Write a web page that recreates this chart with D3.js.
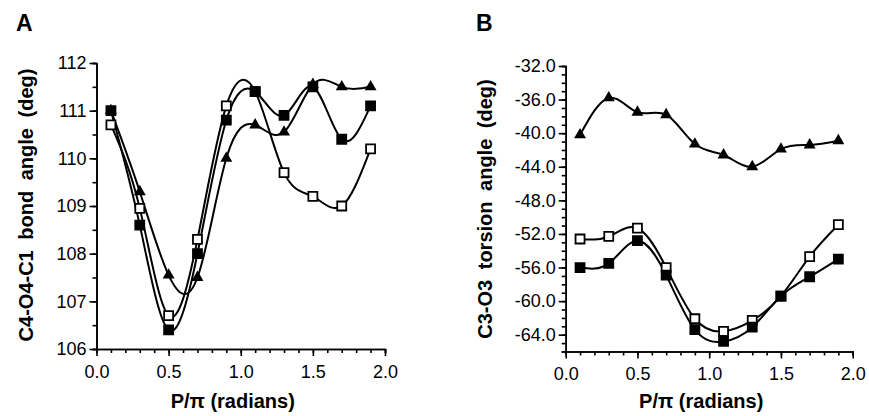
<!DOCTYPE html>
<html>
<head>
<meta charset="utf-8">
<script src="https://cdn.jsdelivr.net/npm/d3@7"></script>
<style>
  body { margin: 0; background: #fff; }
  svg { display: block; font-family: "Liberation Sans", Arial, sans-serif; }
  .tick text { font-size: 18px; }
  .title { font-weight: bold; font-size: 20px; }
</style>
</head>
<body>
<svg width="869" height="416"></svg>
<script>
'use strict';

let phase = [0.1, 0.3, 0.5, 0.7, 0.9, 1.1, 1.3, 1.5, 1.7, 1.9];

// panel A: C4-O4-C1 bond angle
let angleFilled = [111.0, 108.6, 106.4, 108.0, 110.8, 111.4, 110.9, 111.5, 110.4, 111.1];
let angleOpen = [110.7, 108.95, 106.7, 108.3, 111.1, 111.4, 109.7, 109.2, 109.0, 110.2];
let angleTri = [111.0, 109.3, 107.55, 107.5, 110.0, 110.7, 110.55, 111.55, 111.5, 111.5];

// panel B: C3-O3 torsion angle
let torsionFilled = [-56.0, -55.5, -52.8, -56.9, -63.4, -64.8, -63.1, -59.4, -57.1, -55.0];
let torsionOpen = [-52.6, -52.3, -51.3, -56.0, -62.1, -63.6, -62.3, -59.4, -54.7, -50.9];
let torsionTri = [-40.2, -35.8, -37.5, -37.8, -41.3, -42.6, -44.0, -41.9, -41.4, -40.9];

let xTicks = [0, 0.5, 1.0, 1.5, 2.0];
let angleTicks = [106, 107, 108, 109, 110, 111, 112];
let torsionTicks = [-64, -60, -56, -52, -48, -44, -40, -36, -32];

let svg = d3.select("svg");

// plain hyphen instead of d3's unicode minus, like the original figure
let hyphen = f => d => f(d).replace("\u2212", "-");

function panel(opt) {
  let g = svg.append("g");

  let x = d3.scaleLinear().domain([0, 2]).range(opt.xr);
  let y = d3.scaleLinear().domain(opt.yd).range(opt.yr);

  // minor ticks first, then the major axis over them
  g.append("g")
    .attr("transform", `translate(0,${opt.yr[0]})`)
    .call(d3.axisBottom(x).tickValues(d3.range(0, 2.001, 0.1)).tickSize(4).tickFormat(""));
  g.append("g")
    .attr("transform", `translate(${opt.xr[0]},0)`)
    .call(d3.axisLeft(y).tickValues(opt.minor).tickSize(4).tickFormat(""));

  g.append("g")
    .attr("transform", `translate(0,${opt.yr[0]})`)
    .call(d3.axisBottom(x).tickValues(xTicks).tickSize(7).tickSizeOuter(0).tickFormat(d3.format(".1f")))
    .call(a => a.selectAll("text").attr("dy", "1.05em"));
  g.append("g")
    .attr("transform", `translate(${opt.xr[0]},0)`)
    .call(d3.axisLeft(y).tickValues(opt.ticks).tickSize(7).tickSizeOuter(0).tickFormat(opt.fmt))
    .call(a => a.selectAll("text").attr("x", -10));

  g.selectAll(".domain, .tick line")
    .attr("stroke", "#000")
    .attr("stroke-width", 1.6);
  g.selectAll(".tick text").attr("fill", "#000");

  let line = d3.line()
    .x((d, i) => x(phase[i]))
    .y(d => y(d))
    .curve(d3.curveNatural);

  let series = [
    {values: opt.tri, shape: "tri"},
    {values: opt.open, shape: "open"},
    {values: opt.filled, shape: "filled"}
  ];

  g.append("g")
    .selectAll("path")
    .data(series)
    .join("path")
      .attr("d", d => line(d.values))
      .attr("fill", "none")
      .attr("stroke", "#000")
      .attr("stroke-width", 2);

  let tri = d3.symbol().type(d3.symbolTriangle).size(62);

  series.forEach(s => {
    let m = g.append("g")
      .selectAll("path")
      .data(s.values)
      .join("path")
        .attr("transform", (d, i) => `translate(${x(phase[i])},${y(d)})`);
    if (s.shape == "tri") {
      m.attr("d", tri()).attr("fill", "#000");
    } else {
      m.attr("d", "M-4.5,-4.5H4.5V4.5H-4.5Z")
        .attr("fill", s.shape == "open" ? "#fff" : "#000")
        .attr("stroke", "#000")
        .attr("stroke-width", 1.8);
    }
  });

  svg.append("text")
    .attr("class", "title")
    .attr("x", opt.letterX)
    .attr("y", 31)
    .style("font-size", "23px")
    .text(opt.letter);

  svg.append("text")
    .attr("class", "title")
    .attr("x", (opt.xr[0] + opt.xr[1]) / 2 - 8)
    .attr("y", 408)
    .attr("text-anchor", "middle")
    .text("P/\u03c0 (radians)");

  svg.append("text")
    .attr("class", "title")
    .attr("transform", `translate(${opt.titleX},${opt.titleY}) rotate(-90)`)
    .attr("text-anchor", "middle")
    .style("word-spacing", "5px")
    .text(opt.ylabel);
}

panel({
  xr: [96.5, 385],
  yd: [106, 112],
  yr: [349, 63],
  ticks: angleTicks,
  minor: d3.range(106, 112.01, 0.5),
  fmt: d3.format("d"),
  filled: angleFilled,
  open: angleOpen,
  tri: angleTri,
  letter: "A",
  letterX: 16,
  ylabel: "C4-O4-C1 bond angle (deg)",
  titleX: 33,
  titleY: 205
});

panel({
  xr: [565.7, 852.7],
  yd: [-66, -32],
  yr: [351.5, 66],
  ticks: torsionTicks,
  minor: d3.range(-66, -31.99, 1),
  fmt: hyphen(d3.format(".1f")),
  filled: torsionFilled,
  open: torsionOpen,
  tri: torsionTri,
  letter: "B",
  letterX: 476,
  ylabel: "C3-O3 torsion angle (deg)",
  titleX: 492,
  titleY: 209
});
</script>
</body>
</html>
